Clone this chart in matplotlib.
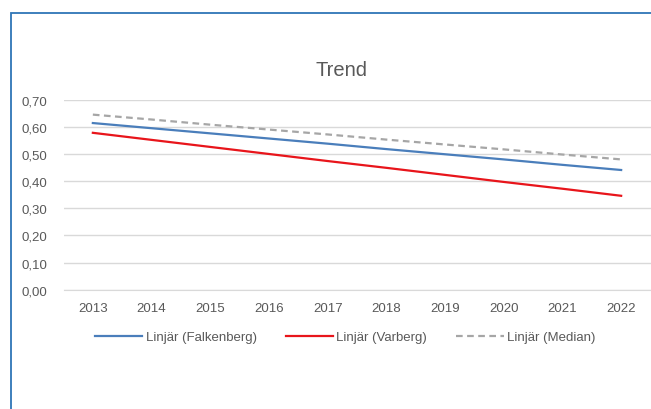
import matplotlib.pyplot as plt
import matplotlib.patches as patches
from matplotlib.ticker import FuncFormatter

plt.rcParams['font.family'] = ['Liberation Sans', 'DejaVu Sans']

years = list(range(2013, 2023))
# linear trend values
falkenberg = [0.614, 0.595, 0.576, 0.557, 0.538, 0.518, 0.499, 0.480, 0.460, 0.441]
varberg = [0.578, 0.552, 0.526, 0.500, 0.474, 0.449, 0.423, 0.397, 0.372, 0.346]
median = [0.645, 0.627, 0.608, 0.590, 0.572, 0.553, 0.535, 0.517, 0.498, 0.480]
y_ticks = [0.0, 0.1, 0.2, 0.3, 0.4, 0.5, 0.6, 0.7]

W, H = 651, 410
fig = plt.figure(figsize=(W / 100, H / 100), dpi=100)

# chart border (blue, runs off the right and bottom edge)
fig.add_artist(patches.Rectangle((11 / W, -0.1), 1.2, 1 - 14 / H + 0.1,
                                 transform=fig.transFigure, fill=False,
                                 edgecolor='#2e75b6', linewidth=1.3))

# axes from pixel box
left, right, top, bottom = 63.5, 650.5, 100.7, 290.7
ax = fig.add_axes([left / W, 1 - bottom / H, (right - left) / W, (bottom - top) / H])

ax.plot(years, falkenberg, color='#4a7ebb', lw=1.6, label='Linjär (Falkenberg)')
ax.plot(years, varberg, color='#e8151b', lw=1.6, label='Linjär (Varberg)')
ax.plot(years, median, color='#a6a6a6', lw=1.6, ls=(0, (3, 2)), label='Linjär (Median)')

ax.set_xlim(2012.5, 2022.5)
ax.set_ylim(0, 0.7)
ax.set_yticks(y_ticks)
ax.yaxis.set_major_formatter(FuncFormatter(lambda v, p: f"{v:.2f}".replace('.', ',')))
ax.set_xticks(years)
ax.grid(axis='y', color='#d9d9d9', lw=1)
ax.set_axisbelow(True)
for s in ax.spines.values():
    s.set_visible(False)
ax.spines['bottom'].set_visible(True)
ax.spines['bottom'].set_color('#d9d9d9')
ax.tick_params(length=0, labelsize=9.5, colors='#595959')
ax.tick_params(axis='x', pad=9)
ax.tick_params(axis='y', pad=11.5)

fig.text(341 / W, 1 - 70 / H, 'Trend', ha='center', va='center', fontsize=14.5, color='#595959')

ax.legend(loc='center', bbox_to_anchor=(345 / W, 1 - 338 / H), bbox_transform=fig.transFigure,
          ncol=3, frameon=False, fontsize=9.5, labelcolor='#595959',
          handlelength=3.6, handletextpad=0.25, columnspacing=2.2)

fig.savefig('out.png', dpi=100)
